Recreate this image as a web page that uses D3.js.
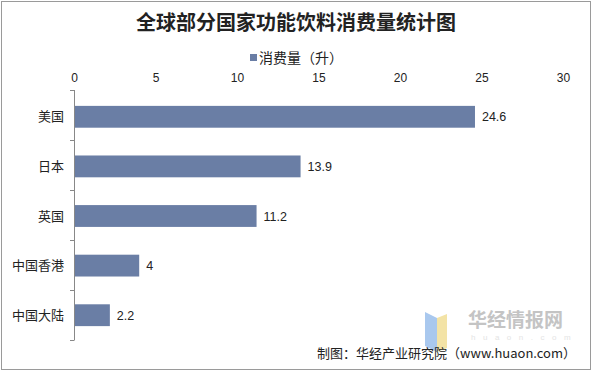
<!DOCTYPE html>
<html>
<head>
<meta charset="utf-8">
<script src="https://cdn.jsdelivr.net/npm/d3@7"></script>
<style>
  body { margin: 0; background: #fff; }
  text { font-family: "Noto Sans CJK SC", "Noto Sans", sans-serif; }
</style>
</head>
<body>
<svg width="593" height="372"></svg>
<script>
var categories = ['美国', '日本', '英国', '中国香港', '中国大陆']
var values = [24.6, 13.9, 11.2, 4, 2.2]
var ticks = [0, 5, 10, 15, 20, 25, 30]

var svg = d3.select('svg')
var barColor = '#6a7ea5'

svg.append('rect')
  .attr('x', 1.5).attr('y', 1.5).attr('width', 589).attr('height', 368)
  .attr('fill', '#fff').attr('stroke', '#9a9a9a')

svg.append('text')
  .attr('x', 296).attr('y', 30)
  .attr('text-anchor', 'middle')
  .attr('font-size', 20).attr('font-weight', 'bold').attr('fill', '#222')
  .text('全球部分国家功能饮料消费量统计图')

// legend
svg.append('rect').attr('x', 250).attr('y', 54).attr('width', 7).attr('height', 7).attr('fill', barColor)
svg.append('text').attr('x', 259).attr('y', 63).attr('font-size', 14).attr('fill', '#222')
  .text('消费量（升）')

var x = d3.scaleLinear().domain([0, 30]).range([74, 563])
var y = d3.scaleBand().domain(categories).range([91, 341]).paddingInner(0.56).paddingOuter(0.3)

var xAxis = svg.append('g').attr('transform', 'translate(0,82)')
  .call(d3.axisTop(x).tickValues(ticks).tickSize(0).tickPadding(0))
xAxis.select('.domain').remove()
xAxis.selectAll('text').attr('font-size', 12).attr('fill', '#222')
  .style('font-family', '"Liberation Sans", Arial, sans-serif')

// category axis
var band = d3.scaleBand().domain(categories).range([90, 340])
svg.append('line').attr('x1', 74.5).attr('x2', 74.5).attr('y1', 90).attr('y2', 340)
  .attr('stroke', '#888')
svg.selectAll('.tk').data(d3.range(categories.length + 1)).enter().append('line')
  .attr('x1', 70).attr('x2', 74.5)
  .attr('y1', function (d) { return 90 + d * band.step() + 0.5 })
  .attr('y2', function (d) { return 90 + d * band.step() + 0.5 })
  .attr('stroke', '#888')

svg.selectAll('.cat').data(categories).enter().append('text')
  .attr('x', 64)
  .attr('y', function (d) { return y(d) + y.bandwidth() / 2 + 4.5 })
  .attr('text-anchor', 'end').attr('font-size', 13).attr('fill', '#222')
  .text(function (d) { return d })

svg.selectAll('.bar').data(values).enter().append('rect')
  .attr('x', x(0) + 1)
  .attr('y', function (d, i) { return y(categories[i]) })
  .attr('width', function (d) { return x(d) - x(0) - 1 })
  .attr('height', y.bandwidth())
  .attr('fill', barColor)

svg.selectAll('.val').data(values).enter().append('text')
  .attr('x', function (d) { return x(d) + 7 })
  .attr('y', function (d, i) { return y(categories[i]) + y.bandwidth() / 2 + 4.5 })
  .attr('font-size', 12.5).attr('fill', '#222')
  .style('font-family', '"Liberation Sans", Arial, sans-serif')
  .text(function (d) { return d })

// watermark
var wm = svg.append('g').attr('transform', 'translate(425,306)')
wm.append('path').attr('d', 'M0,6 L12,12 L12,46 L0,40 Z').attr('fill', '#a9c8ee')
wm.append('path').attr('d', 'M12,12 L22,8 L22,42 L12,46 Z').attr('fill', '#f3e3a6')
wm.append('text').attr('x', 43).attr('y', 21).attr('font-size', 19).attr('font-weight', 'bold')
  .attr('fill', '#c4c4c4').text('华经情报网')
wm.append('text').attr('x', 46).attr('y', 34).attr('font-size', 8).attr('letter-spacing', 7.5)
  .attr('fill', '#e4e4e4').style('font-family', '"Liberation Sans", Arial, sans-serif').text('huaon.com')

svg.append('text').attr('x', 576).attr('y', 358).attr('text-anchor', 'end')
  .attr('font-size', 13).attr('fill', '#222')
  .text('制图：华经产业研究院（www.huaon.com）')
</script>
</body>
</html>
